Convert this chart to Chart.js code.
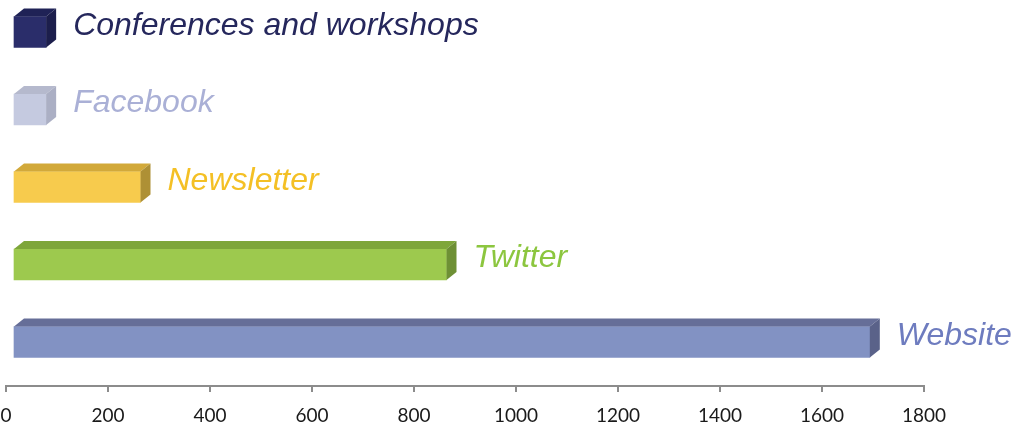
<!DOCTYPE html>
<html>
<head>
    <meta charset="UTF-8">
    <title>Channels</title>
    <script src="https://cdn.jsdelivr.net/npm/chart.js"></script>
    <style>
        body {
            margin: 0;
            padding: 0;
            background-color: #FFFFFF;
        }

        .chart-container {
            width: 1017px;
            height: 429px;
        }
    </style>
</head>
<body>
<div class="chart-container">
    <canvas id="channel-chart"></canvas>
</div>

<script>
    // Dados do gráfico
    const categories = ['Conferences and workshops', 'Facebook', 'Newsletter', 'Twitter', 'Website'];
    const values = [65, 65, 250, 850, 1680];
    const xTicks = [0, 200, 400, 600, 800, 1000, 1200, 1400, 1600, 1800];

    // Cores (frente, topo, lateral, texto)
    const frontColors = ['#2A2D6A', '#C5CAE0', '#F7CB4D', '#9DC94E', '#8292C3'];
    const topColors = ['#1F2256', '#B5B9CD', '#D2A93A', '#7EA63A', '#666E98'];
    const sideColors = ['#1C1E4C', '#ABAFC4', '#AE9035', '#6E9035', '#5A6289'];
    const labelColors = ['#25275C', '#AAB0D6', '#F4C025', '#8CC63F', '#6E7CBF'];

    const SHIFT = 7;   // deslocamento da face frontal
    const DX = 10;     // profundidade 3D
    const DY = 8;

    // Plugin que desenha o efeito 3D e os rótulos
    const bar3d = {
        id: 'bar3d',
        beforeDatasetsDraw(chart) {
            chart.ctx.save();
            chart.ctx.translate(SHIFT, 0);
        },
        afterDatasetsDraw(chart) {
            const ctx = chart.ctx;
            const meta = chart.getDatasetMeta(0);
            meta.data.forEach((bar, i) => {
                const p = bar.getProps(['x', 'y', 'base', 'height'], true);
                const top = p.y - p.height / 2;
                const bottom = p.y + p.height / 2;

                ctx.fillStyle = topColors[i];
                ctx.beginPath();
                ctx.moveTo(p.base, top);
                ctx.lineTo(p.x, top);
                ctx.lineTo(p.x + DX, top - DY);
                ctx.lineTo(p.base + DX, top - DY);
                ctx.closePath();
                ctx.fill();

                ctx.fillStyle = sideColors[i];
                ctx.beginPath();
                ctx.moveTo(p.x, top);
                ctx.lineTo(p.x + DX, top - DY);
                ctx.lineTo(p.x + DX, bottom - DY);
                ctx.lineTo(p.x, bottom);
                ctx.closePath();
                ctx.fill();

                ctx.fillStyle = labelColors[i];
                ctx.font = 'italic 32px "Liberation Sans", Arial, sans-serif';
                ctx.textAlign = 'left';
                ctx.textBaseline = 'alphabetic';
                ctx.fillText(categories[i], p.x + DX + 17, p.y + 3);
            });
            ctx.restore();
        }
    };

    const ctx = document.getElementById('channel-chart').getContext('2d');
    new Chart(ctx, {
        type: 'bar',
        data: {
            datasets: [{
                data: values.map((v, i) => ({ x: v, y: i })),
                backgroundColor: frontColors,
                borderWidth: 0,
                barThickness: 31
            }]
        },
        options: {
            indexAxis: 'y',
            responsive: true,
            maintainAspectRatio: false,
            animation: false,
            layout: {
                padding: { left: 6, right: 93, top: 0, bottom: 0 }
            },
            plugins: {
                legend: { display: false },
                tooltip: { enabled: false }
            },
            scales: {
                x: {
                    min: 0,
                    max: 1800,
                    afterBuildTicks: axis => {
                        axis.ticks = xTicks.map(v => ({ value: v }));
                    },
                    afterFit: axis => {
                        axis.paddingLeft = 0;
                        axis.paddingRight = 0;
                        axis.height = 43;
                    },
                    border: { color: '#8C8C8C', width: 2 },
                    grid: {
                        drawOnChartArea: false,
                        color: '#8C8C8C',
                        lineWidth: 2,
                        tickLength: 6
                    },
                    ticks: {
                        color: '#1A1A1A',
                        padding: 12,
                        maxRotation: 0,
                        callback: v => String(v),
                        font: { family: 'Lato, "Liberation Sans", sans-serif', size: 19 }
                    }
                },
                y: {
                    type: 'linear',
                    display: false,
                    reverse: true,
                    offset: false,
                    min: -0.413,
                    max: 4.568
                }
            }
        },
        plugins: [bar3d]
    });
</script>
</body>
</html>
